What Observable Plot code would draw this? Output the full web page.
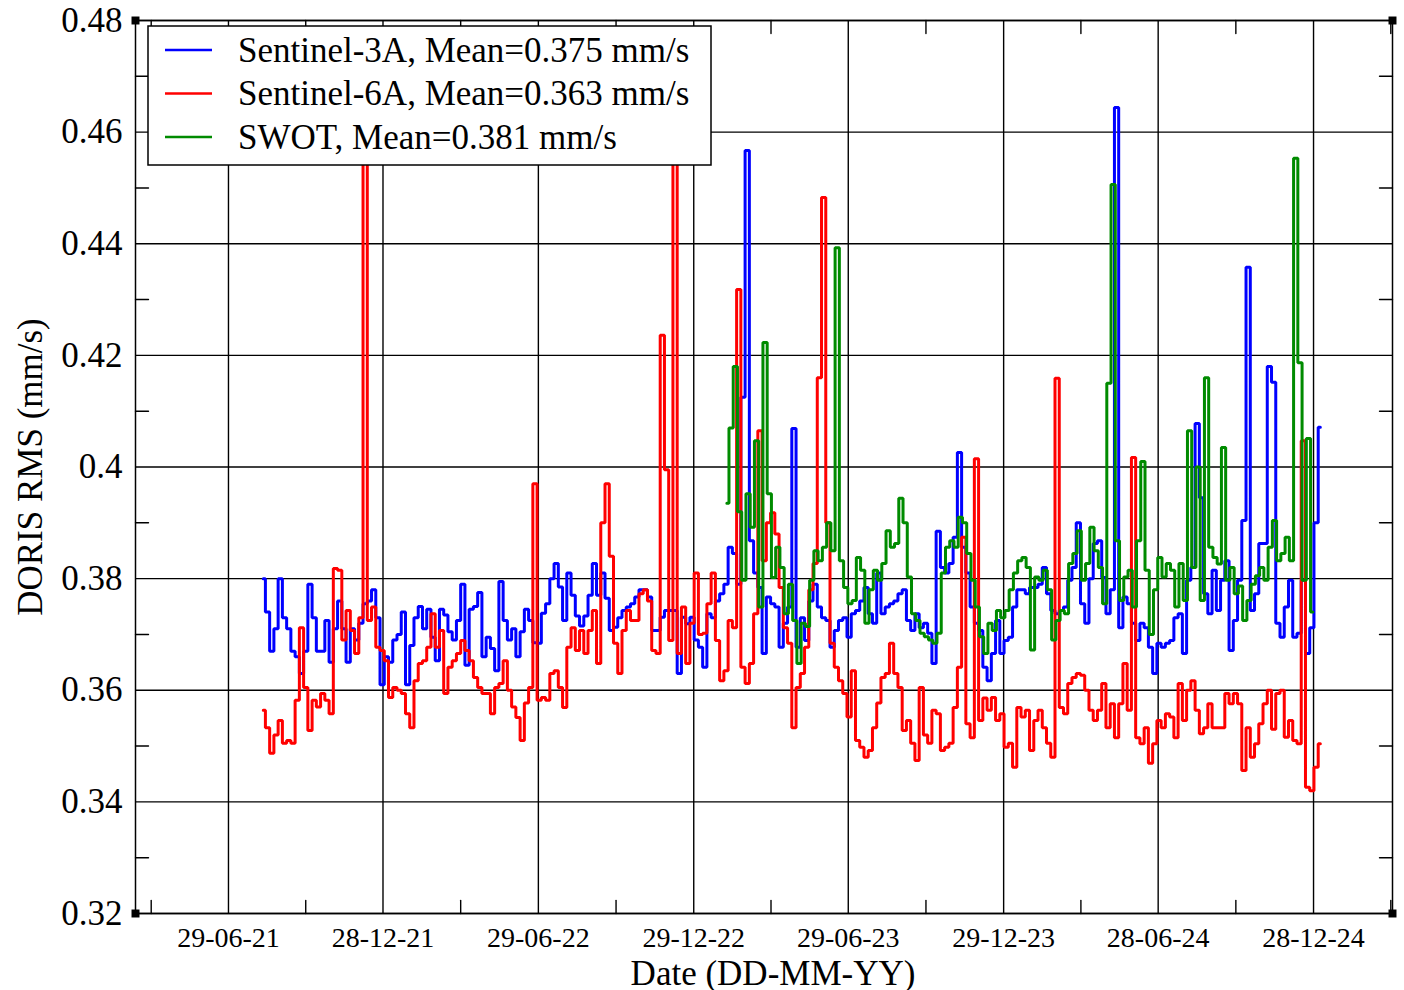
<!DOCTYPE html>
<html>
<head>
<meta charset="utf-8">
<script src="https://cdn.jsdelivr.net/npm/d3@7"></script>
<script src="https://cdn.jsdelivr.net/npm/@observablehq/plot@0.6"></script>
<style>
  html, body { margin: 0; padding: 0; background: #fff; }
  svg { display: block; }
</style>
</head>
<body>
<div id="chart"></div>
<script>
// ---------------- data ----------------
const seriesNames = ["Sentinel-3A", "Sentinel-6A", "SWOT"];
const seriesMeans = [0.375, 0.363, 0.381];
const seriesColors = ["#0000ff", "#ff0000", "#008b00"];
const seriesStarts = ["2021-08-09", "2021-08-09", "2023-02-06"];
const stepDays = 5;

const s3aValues = [
  0.380, 0.374, 0.367, 0.371, 0.380, 0.373, 0.371, 0.367, 0.366, 0.363,
  0.367, 0.379, 0.373, 0.367, 0.367, 0.3725, 0.365, 0.371, 0.376, 0.371,
  0.365, 0.371, 0.369, 0.372, 0.3755, 0.376, 0.378, 0.373, 0.361, 0.366,
  0.365, 0.369, 0.370, 0.374, 0.361, 0.368, 0.373, 0.375, 0.371, 0.3745,
  0.3695, 0.3653, 0.3745, 0.3735, 0.3705, 0.369, 0.3725, 0.379, 0.3645, 0.3745,
  0.375, 0.3775, 0.366, 0.3695, 0.3675, 0.3635, 0.3795, 0.3725, 0.369, 0.371,
  0.366, 0.3705, 0.3745, 0.3725, 0.3685, 0.3684, 0.3738, 0.3755, 0.380, 0.3827,
  0.3785, 0.3725, 0.381, 0.377, 0.3733, 0.3715, 0.3733, 0.377, 0.3827, 0.377,
  0.381, 0.3765, 0.3707, 0.3713, 0.373, 0.3743, 0.3749, 0.3755, 0.3767, 0.378,
  0.378, 0.3767, 0.3707, 0.3707, 0.3731, 0.3743, 0.3743, 0.3743, 0.363, 0.3731,
  0.3719, 0.3731, 0.369, 0.3677, 0.3641, 0.3737, 0.373, 0.376, 0.3773, 0.379,
  0.3856, 0.3845, 0.379, 0.4125, 0.4567, 0.3868, 0.381, 0.3784, 0.3666, 0.3767,
  0.3755, 0.3749, 0.3677, 0.372, 0.3749, 0.4069, 0.3677, 0.373, 0.3689, 0.376,
  0.379, 0.3749, 0.373, 0.3725, 0.3677, 0.3707, 0.3725, 0.373, 0.3695, 0.3737,
  0.3743, 0.376, 0.3784, 0.3737, 0.372, 0.381, 0.3737, 0.3749, 0.3755, 0.376,
  0.3773, 0.378, 0.3725, 0.3707, 0.3737, 0.3712, 0.372, 0.3702, 0.3648, 0.3885,
  0.382, 0.381, 0.3827, 0.3874, 0.4026, 0.3856, 0.381, 0.3749, 0.372, 0.3707,
  0.3641, 0.3617, 0.3666, 0.3725, 0.3666, 0.3689, 0.3695, 0.3749, 0.378, 0.378,
  0.3773, 0.3784, 0.3784, 0.379, 0.382, 0.3773, 0.3743, 0.3737, 0.3743, 0.3749,
  0.3797, 0.382, 0.390, 0.3755, 0.372, 0.380, 0.3863, 0.3868, 0.3802, 0.3737,
  0.378, 0.4644, 0.3712, 0.3767, 0.3755, 0.372, 0.3689, 0.372, 0.3712, 0.3677,
  0.363, 0.3684, 0.3677, 0.3684, 0.3689, 0.373, 0.3737, 0.3666, 0.3797, 0.382,
  0.4078, 0.3945, 0.3773, 0.3737, 0.3815, 0.3743, 0.3797, 0.3832, 0.3671, 0.3725,
  0.3797, 0.3904, 0.4358, 0.3743, 0.3773, 0.3863, 0.3863, 0.418, 0.4152, 0.372,
  0.3695, 0.3749, 0.3797, 0.3695, 0.3702, 0.3797, 0.3666, 0.3712, 0.390, 0.4071
];

const s6aValues = [
  0.3564, 0.3533, 0.3487, 0.352, 0.3546, 0.3505, 0.351, 0.3505, 0.3582, 0.3712,
  0.3605, 0.3528, 0.3582, 0.357, 0.3594, 0.3582, 0.3558, 0.3818, 0.3815, 0.369,
  0.3743, 0.3707, 0.3666, 0.373, 0.465, 0.3725, 0.3749, 0.3677, 0.3671, 0.3653,
  0.3587, 0.3605, 0.360, 0.3594, 0.3558, 0.3533, 0.3617, 0.3648, 0.3653, 0.3677,
  0.3737, 0.3677, 0.3707, 0.3594, 0.3641, 0.3653, 0.3666, 0.3689, 0.3671, 0.3653,
  0.3623, 0.3605, 0.3594, 0.3594, 0.3558, 0.3605, 0.3612, 0.3653, 0.360, 0.357,
  0.3551, 0.351, 0.3577, 0.3605, 0.397, 0.3582, 0.3587, 0.3582, 0.363, 0.3635,
  0.3605, 0.3569, 0.3677, 0.3712, 0.3671, 0.3707, 0.3666, 0.3707, 0.3743, 0.3648,
  0.390, 0.397, 0.384, 0.3684, 0.363, 0.3707, 0.3743, 0.3725, 0.3725, 0.3773,
  0.378, 0.376, 0.3671, 0.3666, 0.4236, 0.3995, 0.3689, 0.465, 0.3666, 0.3749,
  0.3648, 0.372, 0.381, 0.370, 0.3702, 0.3755, 0.381, 0.3689, 0.3617, 0.3635,
  0.3725, 0.3712, 0.4318, 0.3641, 0.3612, 0.3648, 0.3737, 0.4065, 0.3832, 0.390,
  0.3918, 0.388, 0.3784, 0.3712, 0.3684, 0.3533, 0.3605, 0.363, 0.3677, 0.378,
  0.3827, 0.416, 0.4483, 0.390, 0.3684, 0.3641, 0.3617, 0.3594, 0.3552, 0.3635,
  0.351, 0.3498, 0.348, 0.3492, 0.3533, 0.3577, 0.3623, 0.363, 0.3684, 0.363,
  0.3605, 0.3528, 0.3546, 0.3505, 0.3474, 0.3605, 0.352, 0.3505, 0.3564, 0.3558,
  0.3492, 0.3498, 0.3505, 0.3569, 0.3641, 0.3874, 0.354, 0.3515, 0.4015, 0.3546,
  0.3586, 0.3564, 0.3587, 0.3546, 0.3558, 0.3498, 0.3505, 0.3462, 0.3569, 0.3552,
  0.3564, 0.3492, 0.3546, 0.3564, 0.3533, 0.3505, 0.348, 0.4159, 0.3569, 0.3558,
  0.3612, 0.3623, 0.363, 0.3627, 0.360, 0.3564, 0.3546, 0.3564, 0.3612, 0.3533,
  0.3576, 0.3515, 0.3576, 0.3648, 0.3564, 0.4017, 0.3515, 0.3504, 0.3533, 0.3469,
  0.3504, 0.3546, 0.3533, 0.3558, 0.3552, 0.3515, 0.3612, 0.3546, 0.360, 0.3617,
  0.3564, 0.3522, 0.3533, 0.3576, 0.3533, 0.3533, 0.3533, 0.3594, 0.3576, 0.3594,
  0.3576, 0.3456, 0.3533, 0.348, 0.3504, 0.354, 0.3576, 0.360, 0.353, 0.3594,
  0.360, 0.3516, 0.3546, 0.351, 0.3504, 0.4047, 0.3426, 0.342, 0.3462, 0.3504
];

const swotValues = [
  0.3935, 0.407, 0.418, 0.392, 0.3797, 0.3952, 0.3892, 0.4047, 0.3749, 0.4223,
  0.3952, 0.3802, 0.3856, 0.382, 0.3737, 0.379, 0.3725, 0.3648, 0.372, 0.3714,
  0.3797, 0.385, 0.3832, 0.3856, 0.390, 0.385, 0.4393, 0.3832, 0.3784, 0.3755,
  0.3761, 0.3838, 0.3815, 0.372, 0.378, 0.3815, 0.3797, 0.3827, 0.3886, 0.3856,
  0.3863, 0.3944, 0.390, 0.3803, 0.3737, 0.3725, 0.3702, 0.3696, 0.369, 0.3684,
  0.3702, 0.381, 0.3856, 0.3868, 0.3856, 0.391, 0.390, 0.3845, 0.3797, 0.3749,
  0.3696, 0.3666, 0.372, 0.3707, 0.3743, 0.373, 0.3743, 0.378, 0.381, 0.3832,
  0.3838, 0.382, 0.3672, 0.3803, 0.3797, 0.3815, 0.378, 0.369, 0.3725, 0.3743,
  0.3737, 0.3827, 0.3845, 0.3886, 0.3797, 0.3827, 0.3892, 0.385, 0.382, 0.3755,
  0.415, 0.4506, 0.3868, 0.3761, 0.3803, 0.3815, 0.3749, 0.3868, 0.401, 0.3815,
  0.370, 0.378, 0.3838, 0.3803, 0.3827, 0.3815, 0.3749, 0.3827, 0.3761, 0.4065,
  0.382, 0.400, 0.3761, 0.416, 0.3856, 0.3838, 0.3826, 0.4035, 0.3797, 0.382,
  0.3773, 0.3787, 0.3725, 0.3761, 0.379, 0.3805, 0.382, 0.3797, 0.3856, 0.3904,
  0.3832, 0.3845, 0.3874, 0.3832, 0.4553, 0.4187, 0.3797, 0.4051, 0.374
];

const xTickLabels = ["29-06-21", "28-12-21", "29-06-22", "29-12-22", "29-06-23", "29-12-23", "28-06-24", "28-12-24"];
const yTickLabels = ["0.32", "0.34", "0.36", "0.38", "0.4", "0.42", "0.44", "0.46", "0.48"];
const xTitle = "Date (DD-MM-YY)";
const yTitle = "DORIS RMS (mm/s)";
const xDomainStart = "2021-03-11T12:00:00Z";
const xDomainEnd = "2025-03-31T00:00:00Z";

// ---------------- build ----------------
const DAY = 864e5;
const seriesValues = [s3aValues, s6aValues, swotValues];
const data = [];
seriesValues.forEach((vals, k) => {
  const t0 = Date.parse(seriesStarts[k] + "T00:00:00Z");
  vals.forEach((v, i) => data.push({series: seriesNames[k], date: new Date(t0 + i * stepDays * DAY), value: v}));
});

const parseLabel = s => { const [d, m, y] = s.split("-").map(Number); return new Date(Date.UTC(2000 + y, m - 1, d)); };
const xTicks = xTickLabels.map(parseLabel);
const xLabelByTime = new Map(xTicks.map((d, i) => [+d, xTickLabels[i]]));
const xMinor = [];
for (let i = 0; i < xTicks.length - 1; i++) xMinor.push(new Date((+xTicks[i] + +xTicks[i + 1]) / 2));
const halfGap = (+xTicks[1] - +xTicks[0]) / 2;
xMinor.unshift(new Date(+xTicks[0] - halfGap));
xMinor.push(new Date(+xTicks[xTicks.length - 1] + halfGap));

const yTicks = yTickLabels.map(Number);
const yLabelByKey = new Map(yTicks.map((d, i) => [Math.round(d * 1000), yTickLabels[i]]));
const yMinor = [];
for (let i = 0; i < yTicks.length - 1; i++) yMinor.push((yTicks[i] + yTicks[i + 1]) / 2);

const xDomain = [new Date(xDomainStart), new Date(xDomainEnd)];
const yDomain = [yTicks[0], yTicks[yTicks.length - 1]];

const tickShape = {draw(ctx, l) { ctx.moveTo(0, 0); ctx.lineTo(0, -l); }};
const minorLen = 13;
const black = {stroke: "black", strokeWidth: 1.4};
const corners = [[xDomain[0], yDomain[0]], [xDomain[0], yDomain[1]], [xDomain[1], yDomain[0]], [xDomain[1], yDomain[1]]];
const fontFamily = "'Liberation Serif', 'Times New Roman', Times, serif";

const chart = Plot.plot({
  width: 1404,
  height: 990,
  marginLeft: 135,
  marginRight: 12,
  marginTop: 20,
  marginBottom: 77,
  style: {fontFamily, background: "white", color: "black", overflow: "visible"},
  x: {type: "utc", domain: xDomain},
  y: {domain: yDomain},
  color: {domain: seriesNames, range: seriesColors},
  marks: [
    Plot.gridX(xTicks, {stroke: "black", strokeOpacity: 1, strokeWidth: 1.4}),
    Plot.gridY(yTicks, {stroke: "black", strokeOpacity: 1, strokeWidth: 1.4}),
    Plot.vector(xMinor, {x: d => d, y: () => yDomain[0], length: minorLen, rotate: 0, anchor: "start", shape: tickShape, ...black}),
    Plot.vector(xMinor, {x: d => d, y: () => yDomain[1], length: minorLen, rotate: 180, anchor: "start", shape: tickShape, ...black}),
    Plot.vector(yMinor, {x: () => xDomain[0], y: d => d, length: minorLen, rotate: 90, anchor: "start", shape: tickShape, ...black}),
    Plot.vector(yMinor, {x: () => xDomain[1], y: d => d, length: minorLen, rotate: 270, anchor: "start", shape: tickShape, ...black}),
    Plot.line(data, {x: "date", y: "value", z: "series", stroke: "series", curve: "step", strokeWidth: 3, strokeLinejoin: "miter"}),
    Plot.frame({stroke: "black", strokeWidth: 1.5}),
    Plot.dot(corners, {x: d => d[0], y: d => d[1], symbol: "square", r: 4.5, fill: "black"}),
    Plot.axisX({ticks: xTicks, tickSize: 0, tickPadding: 14, fontSize: 28, label: null, tickFormat: d => xLabelByTime.get(+d)}),
    Plot.axisY({ticks: yTicks, tickSize: 0, tickPadding: 13, fontSize: 35, label: null, tickFormat: d => yLabelByKey.get(Math.round(d * 1000))}),
    Plot.text([xTitle], {text: d => d, frameAnchor: "bottom", lineAnchor: "middle", textAnchor: "middle", dx: 9, dy: 60, fontSize: 35}),
    Plot.text([yTitle], {text: d => d, frameAnchor: "left", lineAnchor: "middle", textAnchor: "middle", dx: -105, rotate: -90, fontSize: 35})
  ]
});

// legend inside the plot area (top-left)
const svg = d3.select(chart);
const lg = svg.append("g").attr("font-family", fontFamily).attr("font-size", 35)
  .attr("fill", "black").attr("text-anchor", "start");
lg.append("rect")
  .attr("x", 148).attr("y", 26).attr("width", 563).attr("height", 139)
  .attr("fill", "white").attr("stroke", "black").attr("stroke-width", 1.5);
seriesNames.forEach((name, k) => {
  const y = 50 + k * 43.5;
  lg.append("line").attr("x1", 165).attr("x2", 212).attr("y1", y).attr("y2", y)
    .attr("stroke", seriesColors[k]).attr("stroke-width", 2.6);
  lg.append("text").attr("x", 238).attr("y", y).attr("dy", "0.34em")
    .attr("text-anchor", "start")
    .text(`${name}, Mean=${seriesMeans[k].toFixed(3)} mm/s`);
});

document.getElementById("chart").appendChild(chart);
</script>
</body>
</html>
